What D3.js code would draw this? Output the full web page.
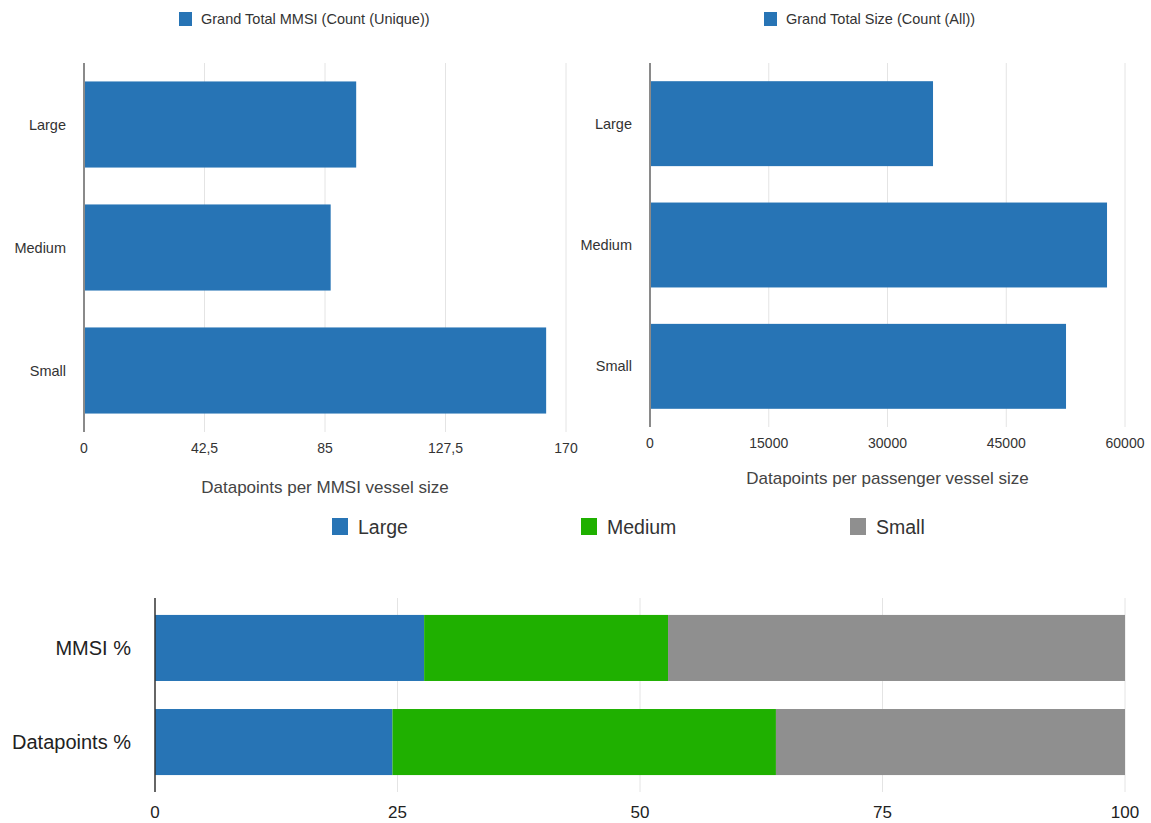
<!DOCTYPE html>
<html><head><meta charset="utf-8">
<script src="https://cdn.jsdelivr.net/npm/d3@7"></script>
<style>
body{margin:0;background:#fff;}
svg{display:block;font-family:"Liberation Sans",Arial,Helvetica,sans-serif;}
</style></head>
<body><svg id="c" width="1151" height="823"></svg>
<script>
const sizes = ["Large","Medium","Small"];
const mmsiCounts = [96, 87, 163];
const datapointCounts = [35750, 57730, 52550];
const mmsiTicks = [0, 42.5, 85, 127.5, 170];
const dpTicks = [0, 15000, 30000, 45000, 60000];
const pctCategories = ["MMSI %","Datapoints %"];
const pctTicks = [0, 25, 50, 75, 100];
const colors = {Large:"#2774b5", Medium:"#1fb000", Small:"#8f8f8f"};

const svg = d3.select("#c");
const gridCol = "#e4e4e4", axisCol = "#8a8a8a", textCol = "#333";

function hbar(opt){
  const g = svg.append("g");
  const x = d3.scaleLinear().domain([0, opt.max]).range([opt.x0, opt.x1]);
  const y = d3.scaleBand().domain(sizes).range([opt.y0, opt.y1]).paddingInner(0.3).paddingOuter(0.15);
  g.selectAll(".grid").data(opt.ticks.slice(1)).join("line")
    .attr("x1", d=>x(d)).attr("x2", d=>x(d)).attr("y1", opt.y0).attr("y2", opt.y1)
    .attr("stroke", gridCol).attr("stroke-width", 1);
  g.selectAll(".bar").data(sizes).join("rect")
    .attr("x", x(0)).attr("y", d=>y(d)).attr("height", y.bandwidth())
    .attr("width", (d,i)=>x(opt.values[i]) - x(0)).attr("fill", colors.Large);
  g.append("line").attr("x1", x(0)).attr("x2", x(0)).attr("y1", opt.y0).attr("y2", opt.y1)
    .attr("stroke", axisCol).attr("stroke-width", 2);
  g.selectAll(".yl").data(sizes).join("text")
    .attr("x", x(0) - 18).attr("y", d=>y(d) + y.bandwidth()/2).attr("dy","0.35em")
    .attr("text-anchor","end").attr("font-size", 14.5).attr("fill", textCol).text(d=>d);
  g.selectAll(".xl").data(opt.ticks).join("text")
    .attr("x", d=>x(d)).attr("y", opt.y1 + 16).attr("dy","0.35em")
    .attr("text-anchor","middle").attr("font-size", 14).attr("fill", textCol)
    .text(d=>String(d).replace(".", ","));
  g.append("text").attr("x", (opt.x0+opt.x1)/2).attr("y", opt.titleY).attr("dy","0.35em")
    .attr("text-anchor","middle").attr("font-size", 17).attr("fill", "#444").text(opt.title);
  g.append("rect").attr("x", opt.legX).attr("y", 12).attr("width", 13).attr("height", 14).attr("fill", colors.Large);
  g.append("text").attr("x", opt.legX + 22).attr("y", 19).attr("dy","0.35em")
    .attr("font-size", 14.5).attr("fill", textCol).text(opt.legend);
}

hbar({x0:84, x1:566, y0:63, y1:432, max:170, ticks:mmsiTicks, values:mmsiCounts,
  title:"Datapoints per MMSI vessel size", titleY:487, legX:179, legend:"Grand Total MMSI (Count (Unique))"});
hbar({x0:650, x1:1125, y0:63, y1:427, max:60000, ticks:dpTicks, values:datapointCounts,
  title:"Datapoints per passenger vessel size", titleY:478, legX:764, legend:"Grand Total Size (Count (All))"});

// stacked percentage chart
const totals = [d3.sum(mmsiCounts), d3.sum(datapointCounts)];
const pctRows = pctCategories.map((c, r) => {
  const vals = r === 0 ? mmsiCounts : datapointCounts;
  const o = {cat:c};
  sizes.forEach((s,i)=> o[s] = vals[i] / totals[r] * 100);
  return o;
});
const stack = d3.stack().keys(sizes)(pctRows);
const xs = d3.scaleLinear().domain([0,100]).range([155,1125]);
const ys = d3.scaleBand().domain(pctCategories).range([598, 792]).paddingInner(0.298).paddingOuter(0.18);
const gb = svg.append("g");
gb.selectAll(".grid").data(pctTicks.slice(1)).join("line")
  .attr("x1", d=>xs(d)).attr("x2", d=>xs(d)).attr("y1", 598).attr("y2", 792)
  .attr("stroke", gridCol);
gb.selectAll(".layer").data(stack).join("g").attr("fill", d=>colors[d.key])
  .selectAll("rect").data(d=>d).join("rect")
  .attr("x", d=>xs(d[0])).attr("width", d=>xs(d[1]) - xs(d[0]))
  .attr("y", d=>ys(d.data.cat)).attr("height", ys.bandwidth());
gb.append("line").attr("x1", xs(0)).attr("x2", xs(0)).attr("y1", 598).attr("y2", 792)
  .attr("stroke", "#333").attr("stroke-width", 1.5);
gb.selectAll(".yl").data(pctCategories).join("text")
  .attr("x", 131).attr("y", d=>ys(d) + ys.bandwidth()/2).attr("dy","0.35em")
  .attr("text-anchor","end").attr("font-size", 20).attr("fill", "#222").text(d=>d);
gb.selectAll(".xl").data(pctTicks).join("text")
  .attr("x", d=>xs(d)).attr("y", 812).attr("dy","0.35em")
  .attr("text-anchor","middle").attr("font-size", 17).attr("fill", "#222").text(d=>d);
// legend
const legX = [332, 581, 850];
const lg = gb.selectAll(".leg").data(sizes).join("g").attr("transform", (d,i)=>`translate(${legX[i]},518)`);
lg.append("rect").attr("width", 16).attr("height", 17).attr("fill", d=>colors[d]);
lg.append("text").attr("x", 26).attr("y", 9).attr("dy","0.35em").attr("font-size", 19.5).attr("fill", "#333").text(d=>d);
</script></body></html>
